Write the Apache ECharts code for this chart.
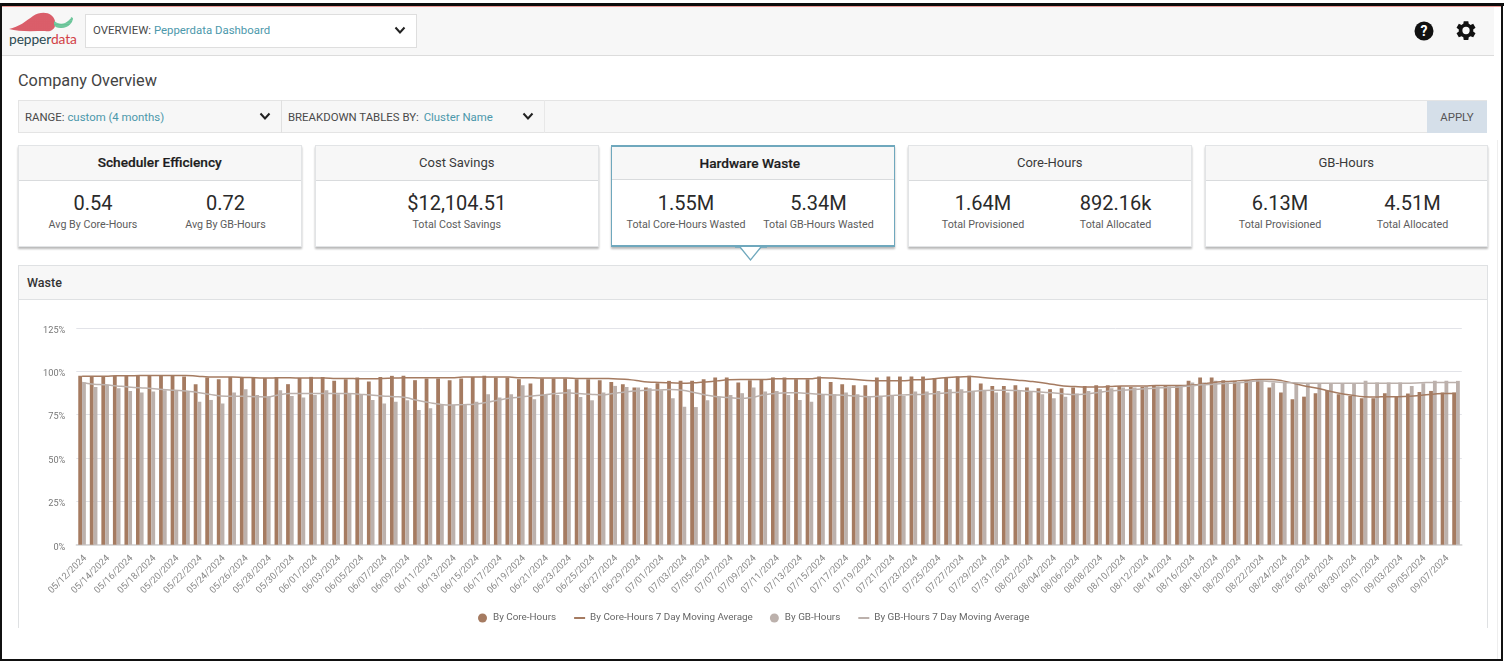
<!DOCTYPE html>
<html>
<head>
<meta charset="utf-8">
<title>Company Overview</title>
<script src="https://cdn.jsdelivr.net/npm/echarts@6/dist/echarts.min.js"></script>
<style>
html,body{margin:0;padding:0;background:#fff;overflow:hidden}
body{width:1504px;height:662px;position:relative;font-family:Roboto,sans-serif;color:#444}
.abs{position:absolute;box-sizing:border-box}
.teal{color:#4c98ab}
.sel{white-space:nowrap;font-size:11.4px;line-height:34px;color:#4a4a4a}
.card{position:absolute;top:145px;height:102px;width:283.5px;background:#fff;border:1px solid #e2e4e6;box-shadow:0 1.5px 2px rgba(0,0,0,.28);box-sizing:border-box;text-align:center}
.card .hd{height:34px;line-height:34px;background:#f7f7f7;border-bottom:1px solid #d9dbdd;font-size:13px;color:#3a3a3a}
.card .hd.b{font-weight:500;font-size:13.7px;line-height:33px;color:#1d1d1d;-webkit-text-stroke:.2px #1d1d1d}
.card .v{position:absolute;top:45px;font-size:20px;line-height:24px;color:#2a2a2a;width:134px}
.card .l{position:absolute;top:72px;font-size:10.7px;line-height:14px;color:#5c5c5c;width:134px;white-space:nowrap}
.card .c1{left:7px}
.card .c2{left:139.5px}
.card .one{width:100%;left:0}
</style>
</head>
<body>
<div class="abs" style="left:2px;top:6px;width:1492px;height:50px;background:#f7f7f7;border-bottom:1px solid #dcdcdc"></div>
<div class="abs" style="left:0;top:3px;width:1504px;height:3px;background:#0c0c0c"></div>
<div class="abs" style="left:2px;top:6px;width:1499px;height:.8px;background:#ec9a96"></div>
<div class="abs" style="left:0;top:3px;width:2px;height:657px;background:#111"></div>
<div class="abs" style="left:1501px;top:3px;width:2px;height:657px;background:#111"></div>
<div class="abs" style="left:0;top:659px;width:1503px;height:2px;background:#111"></div>
<div class="abs" style="left:1497px;top:140px;width:1px;height:519px;background:#eee"></div>

<svg class="abs" style="left:9px;top:12px" width="68" height="24" viewBox="0 0 68 24">
<defs>
<pattern id="dots" width="1.8" height="1.8" patternUnits="userSpaceOnUse"><rect width="1.8" height="1.8" fill="#ea9aa0"/><circle cx=".9" cy=".9" r=".8" fill="#d23f4e"/></pattern>
<pattern id="dotsg" width="1.6" height="1.6" patternUnits="userSpaceOnUse"><rect width="1.6" height="1.6" fill="#a8e0c4"/><circle cx=".8" cy=".8" r=".7" fill="#3fb27c"/></pattern>
</defs>
<path d="M0 17 C10 15 17 9 24 4 C30 0 38 0 42 3 C46 6 47 11 46 14 C45 18 41 20 36 19 C24 19 10 20 0 17 Z" fill="url(#dots)"/>
<path d="M45 9 C50 13 56 12 59 9 C61 7 62 7 62 5 L64 6 C64 10 60 16 52 16 C48 16 46 15 45 13 Z" fill="url(#dotsg)"/>
</svg>
<div class="abs" style="left:9px;top:30.5px;font-size:13.8px;line-height:16px;font-family:Lato,sans-serif;letter-spacing:-.1px;color:#2c4a52">pepper<span style="color:#d23f46">data</span></div>

<div class="abs sel" style="left:85px;top:14px;width:332px;height:34px;background:#fff;border:1px solid #dedede;padding-left:7px;line-height:31px">OVERVIEW: <span class="teal">Pepperdata Dashboard</span></div>
<svg class="abs" style="left:394px;top:26px" width="12" height="9"><polyline points="1.5,1.5 6,6.5 10.5,1.5" fill="none" stroke="#222" stroke-width="2"/></svg>

<svg class="abs" style="left:1414px;top:21px" width="20" height="20" viewBox="0 0 20 20">
<circle cx="10" cy="10" r="9.5" fill="#111"/>
<text x="10" y="15" text-anchor="middle" font-family="Roboto" font-weight="700" font-size="14" fill="#fff">?</text>
</svg>
<svg class="abs" style="left:1453px;top:18px" width="25" height="25" viewBox="0 0 24 24">
<path fill="#111" d="M19.4 13a7.6 7.6 0 0 0 0-2l2.2-1.7-2.2-3.7-2.6 1a7.6 7.6 0 0 0-1.7-1L14.7 3h-4.4l-.4 2.6a7.6 7.6 0 0 0-1.7 1l-2.6-1-2.2 3.7L5.6 11a7.6 7.6 0 0 0 0 2l-2.2 1.7 2.2 3.7 2.6-1a7.6 7.6 0 0 0 1.7 1l.4 2.6h4.4l.4-2.6a7.6 7.6 0 0 0 1.7-1l2.6 1 2.2-3.7ZM12.5 15.5a3.5 3.5 0 1 1 0-7 3.5 3.5 0 0 1 0 7Z"/>
</svg>

<div class="abs" style="left:18px;top:71px;font-size:16.3px;line-height:20px;color:#444">Company Overview</div>

<div class="abs" style="left:18px;top:100px;width:1469px;height:33px;background:#f7f7f7;border:1px solid #e4e4e4"></div>
<div class="abs" style="left:281px;top:100px;width:1px;height:33px;background:#e0e0e0"></div>
<div class="abs" style="left:544px;top:100px;width:1px;height:33px;background:#e8e8e8"></div>
<div class="abs sel" style="left:25px;top:100px">RANGE: <span class="teal">custom (4 months)</span></div>
<svg class="abs" style="left:259px;top:112px" width="12" height="9"><polyline points="1.5,1.5 6,6.5 10.5,1.5" fill="none" stroke="#222" stroke-width="2"/></svg>
<div class="abs sel" style="left:288px;top:100px">BREAKDOWN TABLES BY: <span class="teal" style="margin-left:2px">Cluster Name</span></div>
<svg class="abs" style="left:522px;top:112px" width="12" height="9"><polyline points="1.5,1.5 6,6.5 10.5,1.5" fill="none" stroke="#222" stroke-width="2"/></svg>
<div class="abs sel" style="left:1427px;top:101px;width:60px;height:32px;background:#d5dfe9;text-align:center;line-height:32px;color:#555">APPLY</div>

<div class="card" style="left:18px"><div class="hd b">Scheduler Efficiency</div>
<div class="v c1">0.54</div><div class="v c2">0.72</div>
<div class="l c1">Avg By Core-Hours</div><div class="l c2">Avg By GB-Hours</div></div>
<div class="card" style="left:315px"><div class="hd">Cost Savings</div>
<div class="v one">$12,104.51</div><div class="l one">Total Cost Savings</div></div>
<div class="card" style="left:611px;border:1px solid #6fa8bd;border-top:2px solid #6fa8bd;border-bottom:2px solid #6fa8bd"><div class="hd b" style="height:33px;line-height:32px;padding-right:6px;box-sizing:border-box">Hardware Waste</div>
<div class="v c1" style="top:44px">1.55M</div><div class="v c2" style="top:44px">5.34M</div>
<div class="l c1" style="top:71px">Total Core-Hours Wasted</div><div class="l c2" style="top:71px">Total GB-Hours Wasted</div></div>
<svg class="abs" style="left:735px;top:245px" width="32" height="18"><polyline points="0,2 5,2 15.5,15 26,2 32,2" fill="#fff" stroke="#6fa8bd" stroke-width="1.3"/></svg>
<div class="card" style="left:908px"><div class="hd">Core-Hours</div>
<div class="v c1">1.64M</div><div class="v c2">892.16k</div>
<div class="l c1">Total Provisioned</div><div class="l c2">Total Allocated</div></div>
<div class="card" style="left:1205px;width:282.5px"><div class="hd">GB-Hours</div>
<div class="v c1">6.13M</div><div class="v c2">4.51M</div>
<div class="l c1">Total Provisioned</div><div class="l c2">Total Allocated</div></div>

<div class="abs" style="left:18px;top:265px;width:1470px;height:363px;border:1px solid #dfe1e3;border-bottom:none;background:#fff"></div>
<div class="abs" style="left:19px;top:266px;width:1468px;height:34px;background:#f7f7f7;border-bottom:1px solid #dfe1e3;padding-left:8px;font-size:12.5px;line-height:34px;font-weight:500;color:#333">Waste</div>
<div id="chart" class="abs" style="left:19px;top:300px;width:1468px;height:328px"></div>

<script>
var categories = [
  '05/12/2024','05/13/2024','05/14/2024','05/15/2024','05/16/2024','05/17/2024','05/18/2024','05/19/2024','05/20/2024','05/21/2024',
  '05/22/2024','05/23/2024','05/24/2024','05/25/2024','05/26/2024','05/27/2024','05/28/2024','05/29/2024','05/30/2024','05/31/2024',
  '06/01/2024','06/02/2024','06/03/2024','06/04/2024','06/05/2024','06/06/2024','06/07/2024','06/08/2024','06/09/2024','06/10/2024',
  '06/11/2024','06/12/2024','06/13/2024','06/14/2024','06/15/2024','06/16/2024','06/17/2024','06/18/2024','06/19/2024','06/20/2024',
  '06/21/2024','06/22/2024','06/23/2024','06/24/2024','06/25/2024','06/26/2024','06/27/2024','06/28/2024','06/29/2024','06/30/2024',
  '07/01/2024','07/02/2024','07/03/2024','07/04/2024','07/05/2024','07/06/2024','07/07/2024','07/08/2024','07/09/2024','07/10/2024',
  '07/11/2024','07/12/2024','07/13/2024','07/14/2024','07/15/2024','07/16/2024','07/17/2024','07/18/2024','07/19/2024','07/20/2024',
  '07/21/2024','07/22/2024','07/23/2024','07/24/2024','07/25/2024','07/26/2024','07/27/2024','07/28/2024','07/29/2024','07/30/2024',
  '07/31/2024','08/01/2024','08/02/2024','08/03/2024','08/04/2024','08/05/2024','08/06/2024','08/07/2024','08/08/2024','08/09/2024',
  '08/10/2024','08/11/2024','08/12/2024','08/13/2024','08/14/2024','08/15/2024','08/16/2024','08/17/2024','08/18/2024','08/19/2024',
  '08/20/2024','08/21/2024','08/22/2024','08/23/2024','08/24/2024','08/25/2024','08/26/2024','08/27/2024','08/28/2024','08/29/2024',
  '08/30/2024','08/31/2024','09/01/2024','09/02/2024','09/03/2024','09/04/2024','09/05/2024','09/06/2024','09/07/2024','09/08/2024'
];
var coreHours = [
  97.4,97.2,97.2,97.4,97.4,97.4,97.4,97.4,97.4,97.0,
  92.6,96.5,95.5,96.8,96.8,96.5,96.1,96.8,92.6,96.1,96.8,96.8,94.5,95.5,96.5,94.1,96.8,97.4,
  97.4,94.9,95.9,95.9,94.9,95.9,96.8,97.4,96.5,96.5,95.5,93.0,95.9,95.9,95.9,95.5,95.5,94.9,93.9,92.6,90.7,90.7,93.2,94.5,94.5,94.5,95.5,96.5,96.5,93.6,94.9,
  95.5,96.5,96.5,95.5,95.5,97.0,93.9,92.6,92.0,92.0,96.5,97.0,97.0,97.0,97.0,96.1,96.8,97.0,97.4,93.0,91.6,91.6,92.0,90.7,90.3,89.7,90.3,90.7,91.6,92.0,92.0,
  91.6,91.0,91.0,91.6,91.6,91.6,94.5,96.5,96.5,94.9,94.5,94.5,95.5,90.7,87.8,83.9,85.4,87.4,88.7,86.8,85.8,84.5,84.5,87.4,85.2,87.2,88.1,88.7,87.8,87.8
];
var coreHoursAvg = [
  97.2,97.2,97.2,97.4,97.4,97.6,97.6,97.6,97.6,97.6,
  97.2,96.8,96.7,96.7,96.5,96.3,96.1,96.3,96.3,96.1,96.1,96.1,95.9,95.9,95.7,95.7,95.9,96.1,
  96.3,96.3,96.3,96.3,96.3,96.7,96.7,96.8,96.8,96.7,96.3,96.3,96.1,96.1,96.1,95.9,95.9,95.9,95.7,95.5,94.7,93.9,93.6,93.4,93.2,93.4,93.8,94.5,95.1,95.3,95.3,
  95.3,95.7,95.7,95.7,95.7,96.3,96.1,95.7,95.3,94.7,94.5,94.5,94.5,95.1,95.3,95.9,96.5,96.8,97.0,96.5,95.9,95.5,94.9,94.3,93.6,92.6,91.6,91.2,91.0,91.0,91.2,
  91.6,91.6,91.6,91.8,91.8,91.8,92.0,92.6,93.6,94.1,94.5,94.9,95.3,95.3,94.5,93.0,91.4,90.3,88.7,87.2,86.2,85.4,85.2,85.4,85.4,85.6,86.2,86.8,87.2,87.2
];
var gbHours = [
  93.6,91.0,92.2,90.3,88.7,87.8,88.3,89.1,88.7,88.3,
  82.5,83.5,81.4,87.8,89.7,86.4,85.4,89.1,85.8,84.9,86.4,89.1,86.8,87.2,86.4,83.5,81.4,82.5,
  83.3,77.7,78.7,80.6,80.6,80.6,82.5,86.8,84.9,86.8,92.0,83.9,86.4,86.4,89.7,85.2,83.3,87.8,91.6,91.0,90.7,90.3,89.1,84.5,79.6,79.4,83.3,85.4,86.4,87.4,90.7,
  88.3,88.7,86.4,83.5,82.5,86.4,86.8,87.8,86.8,85.8,85.8,86.4,85.8,88.3,88.3,88.7,89.7,89.7,88.7,89.1,87.8,87.8,88.7,88.7,86.8,84.5,85.4,87.2,88.7,89.7,90.3,
  90.7,90.7,91.2,91.2,91.2,91.6,93.6,93.6,94.5,93.6,93.6,94.1,94.5,93.6,93.6,93.2,93.2,93.2,93.2,93.2,93.2,94.5,93.6,93.6,93.6,91.6,93.2,94.5,94.5,94.5
];
var gbHoursAvg = [
  93.6,92.6,92.2,91.6,91.0,90.5,90.1,89.5,89.1,88.7,
  87.8,86.8,85.8,85.6,85.6,85.4,85.2,86.4,87.2,87.2,87.2,87.2,87.2,87.2,86.8,86.4,85.8,85.4,
  84.9,83.3,82.1,81.0,80.6,80.8,81.0,82.0,83.3,84.5,85.2,85.8,86.4,87.2,87.6,87.2,86.8,86.4,87.2,88.1,88.7,89.1,89.3,89.5,89.1,87.8,86.4,85.4,84.9,84.3,84.9,
  86.4,87.2,87.6,87.6,87.2,86.8,86.4,86.2,85.8,85.4,85.6,86.0,86.4,86.6,86.8,87.2,87.6,88.0,88.3,88.9,89.1,89.1,88.9,88.5,88.1,87.6,87.0,86.6,87.0,87.8,88.7,
  89.1,89.5,89.9,90.3,90.7,91.0,91.6,92.2,92.6,93.0,93.4,93.9,94.5,94.1,93.6,93.4,93.2,93.2,93.2,93.2,93.2,93.2,93.2,93.2,93.2,93.2,93.4,93.6,93.6,93.6
];

var coreColor = '#a57b61';
var gbColor = '#bcb1ac';

var chart = echarts.init(document.getElementById('chart'));
chart.setOption({
  animation: false,
  textStyle: { fontFamily: 'Roboto' },
  grid: { left: 57.3, top: 28, width: 1385.5, height: 216.7 },
  legend: {
    left: 459, top: 313, padding: 0,
    itemWidth: 11, itemHeight: 9, itemGap: 17,
    textStyle: { fontSize: 9.9, color: '#666' },
    data: [
      { name: 'By Core-Hours', icon: 'circle' },
      { name: 'By Core-Hours 7 Day Moving Average', itemStyle: { opacity: 0 } },
      { name: 'By GB-Hours', icon: 'circle' },
      { name: 'By GB-Hours 7 Day Moving Average', itemStyle: { opacity: 0 } }
    ]
  },
  xAxis: {
    type: 'category',
    data: categories,
    axisTick: { show: false },
    axisLine: { lineStyle: { color: '#d2d2d2', width: 1.5 } },
    axisLabel: { rotate: 45, interval: 1, fontSize: 9.4, color: '#888', margin: 9, verticalAlign: 'top' }
  },
  yAxis: {
    type: 'value',
    min: 0, max: 125, interval: 25,
    axisLine: { show: false },
    axisTick: { show: false },
    axisLabel: { formatter: '{value}%', fontSize: 9.2, color: '#777', margin: 11, verticalAlign: 'top', lineHeight: 5 },
    splitLine: { lineStyle: { color: '#e2e3e8', width: 1 } }
  },
  series: [
    { name: 'By Core-Hours', type: 'bar', data: coreHours, barWidth: 3.8, barGap: 0, itemStyle: { color: coreColor } },
    { name: 'By GB-Hours', type: 'bar', data: gbHours, barWidth: 3.8, barGap: 0, itemStyle: { color: gbColor } },
    { name: 'By Core-Hours 7 Day Moving Average', type: 'line', data: coreHoursAvg, smooth: true, symbol: 'none', lineStyle: { color: coreColor, width: 1.5 }, itemStyle: { color: coreColor } },
    { name: 'By GB-Hours 7 Day Moving Average', type: 'line', data: gbHoursAvg, smooth: true, symbol: 'none', lineStyle: { color: gbColor, width: 1.5 }, itemStyle: { color: gbColor } }
  ]
});
</script>
</body>
</html>
